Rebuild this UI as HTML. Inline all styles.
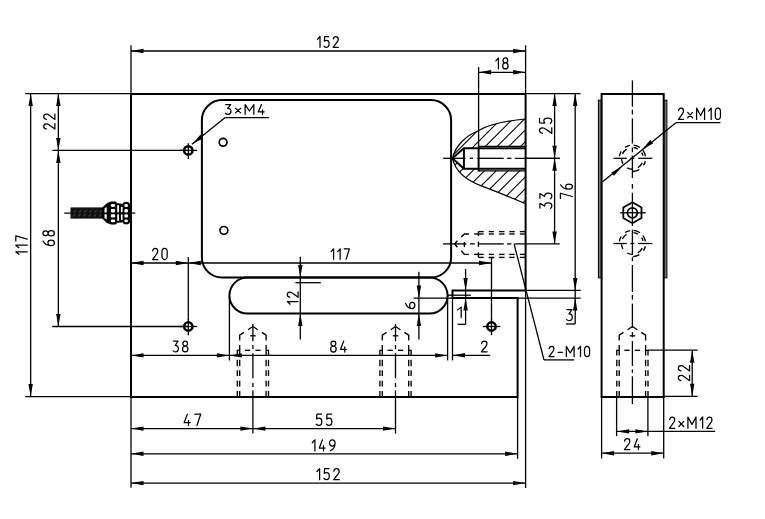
<!DOCTYPE html>
<html><head><meta charset="utf-8"><style>
html,body{margin:0;padding:0;background:#fff;}
svg{display:block;}
text{font-family:"Liberation Sans",sans-serif;fill:#000;}
</style></head><body>
<svg width="765" height="519" viewBox="0 0 765 519">
<g stroke="#000" fill="none">
<path d="M452.50,298.10 L452.50,290.40 L525.60,290.40 L525.60,93.90 L131.00,93.90 L131.00,397.00 L517.60,397.00 L517.60,298.10 Z" stroke-width="2.0" fill="none"/>
<path d="M221.9,100.1 L431.1,100.1 A20,20 0 0 1 451.1,120.1 L451.1,257.5 A20,20 0 0 1 431.1,277.5 L221.9,277.5 A20,20 0 0 1 201.9,257.5 L201.9,120.1 A20,20 0 0 1 221.9,100.1 Z" stroke-width="2.0" fill="none"/>
<path d="M247.4,277.6 L429.6,277.6 A18.0,18.0 0 0 1 429.6,313.6 L247.4,313.6 A18.0,18.0 0 0 1 247.4,277.6 Z" stroke-width="2.0" fill="none"/>
<circle cx="188.30" cy="150.40" r="4.20" stroke-width="2.5" fill="none"/>
<line x1="179.50" y1="150.40" x2="197.10" y2="150.40" stroke-width="1.3" stroke-linecap="butt"/>
<line x1="188.30" y1="143.20" x2="188.30" y2="159.10" stroke-width="1.3" stroke-linecap="butt"/>
<circle cx="188.30" cy="326.50" r="4.20" stroke-width="2.5" fill="none"/>
<line x1="179.50" y1="326.50" x2="197.10" y2="326.50" stroke-width="1.3" stroke-linecap="butt"/>
<line x1="188.30" y1="319.30" x2="188.30" y2="335.20" stroke-width="1.3" stroke-linecap="butt"/>
<circle cx="491.50" cy="326.50" r="4.20" stroke-width="2.5" fill="none"/>
<line x1="482.70" y1="326.50" x2="500.30" y2="326.50" stroke-width="1.3" stroke-linecap="butt"/>
<line x1="491.50" y1="319.30" x2="491.50" y2="335.20" stroke-width="1.3" stroke-linecap="butt"/>
<line x1="491.50" y1="257.60" x2="491.50" y2="320.00" stroke-width="1.3" stroke-linecap="butt"/>
<line x1="488.70" y1="257.60" x2="494.30" y2="257.60" stroke-width="1.3" stroke-linecap="butt"/>
<circle cx="223.10" cy="142.30" r="3.90" stroke-width="1.7" fill="none"/>
<circle cx="223.90" cy="230.40" r="3.90" stroke-width="1.7" fill="none"/>
<line x1="64.20" y1="213.10" x2="135.30" y2="213.10" stroke-width="1.3" stroke-linecap="butt"/>
<rect x="70.5" y="207.4" width="32.8" height="11.2" fill="#111" stroke="none"/>
<line x1="73.80" y1="212.30" x2="76.00" y2="210.10" stroke="#3a3a3a" stroke-width="1.3"/>
<line x1="79.00" y1="212.30" x2="81.20" y2="210.10" stroke="#3a3a3a" stroke-width="1.3"/>
<line x1="84.20" y1="212.30" x2="86.40" y2="210.10" stroke="#3a3a3a" stroke-width="1.3"/>
<line x1="89.40" y1="212.30" x2="91.60" y2="210.10" stroke="#3a3a3a" stroke-width="1.3"/>
<line x1="94.60" y1="212.30" x2="96.80" y2="210.10" stroke="#3a3a3a" stroke-width="1.3"/>
<line x1="99.80" y1="212.30" x2="102.00" y2="210.10" stroke="#3a3a3a" stroke-width="1.3"/>
<line x1="73.00" y1="216.50" x2="75.20" y2="214.30" stroke="#3a3a3a" stroke-width="1.3"/>
<line x1="78.20" y1="216.50" x2="80.40" y2="214.30" stroke="#3a3a3a" stroke-width="1.3"/>
<line x1="83.40" y1="216.50" x2="85.60" y2="214.30" stroke="#3a3a3a" stroke-width="1.3"/>
<line x1="88.60" y1="216.50" x2="90.80" y2="214.30" stroke="#3a3a3a" stroke-width="1.3"/>
<line x1="93.80" y1="216.50" x2="96.00" y2="214.30" stroke="#3a3a3a" stroke-width="1.3"/>
<line x1="99.00" y1="216.50" x2="101.20" y2="214.30" stroke="#3a3a3a" stroke-width="1.3"/>
<path d="M102.6,207.4 L107,203.4 L109,202.6 Q110,201.8 112,201.8 L115,201.8 Q116.5,201.8 117,203.4 L120,203.8 L123,204.2 Q123.2,202.2 125,202.2 L127.5,202.2 Q129,202.2 129.2,203.8 L131,203.8 L131,222.4 L129.2,222.4 Q129,224 127.5,224 L125,224 Q123.2,224 123,222 L120,222.2 L117,222.6 Q116.5,224.2 115,224.2 L112,224.2 Q110,224.2 109,223.4 L107,222.8 L102.6,218.6 Z" fill="#000" stroke="#000" stroke-width="0.6" stroke-linejoin="round"/>
<rect x="110.8" y="204.1" width="4.40" height="2.80" rx="1.4" fill="#fff" stroke="none"/>
<rect x="124.4" y="204.1" width="3.50" height="2.80" rx="1.2" fill="#fff" stroke="none"/>
<rect x="110.8" y="209.1" width="4.40" height="3.40" rx="1.4" fill="#fff" stroke="none"/>
<rect x="124.4" y="209.1" width="3.50" height="3.40" rx="1.2" fill="#fff" stroke="none"/>
<rect x="110.8" y="214.3" width="4.40" height="3.30" rx="1.4" fill="#fff" stroke="none"/>
<rect x="124.4" y="214.3" width="3.50" height="3.30" rx="1.2" fill="#fff" stroke="none"/>
<rect x="110.8" y="219.6" width="4.40" height="2.70" rx="1.4" fill="#fff" stroke="none"/>
<rect x="124.4" y="219.6" width="3.50" height="2.70" rx="1.2" fill="#fff" stroke="none"/>
<rect x="117.2" y="204.9" width="1.80" height="7.50" rx="0.8" fill="#fff" stroke="none"/>
<rect x="117.2" y="214.3" width="1.80" height="6.80" rx="0.8" fill="#fff" stroke="none"/>
<rect x="120.9" y="206.8" width="1.70" height="5.60" rx="0.8" fill="#fff" stroke="none"/>
<rect x="120.9" y="214.3" width="1.70" height="5.70" rx="0.8" fill="#fff" stroke="none"/>
<path d="M104.5,208.6 L106.7,206.9 L106.7,212.4 L104.5,212.4 Z M104.5,214.2 L106.7,214.2 L106.7,219.6 L104.5,218.1 Z" fill="#fff" stroke="none"/>
<clipPath id="hc"><path clip-rule="evenodd" d="M525.6,119 C505,121 488,125 478.3,130.7 C467.2,135 455.8,144.8 452.4,158.2 C455,170 465,180 481.4,185.9 C495,191 512,198 525.6,203.8 Z M452.4,158.2 L463.9,148.3 L478.6,148.3 L478.6,146.3 L525.6,146.3 L525.6,170.8 L478.6,170.8 L478.6,168.7 L463.9,168.7 Z"/></clipPath>
<path d="M386.48,210 L486.48,110 M398.24,210 L498.24,110 M410.00,210 L510.00,110 M421.76,210 L521.76,110 M433.52,210 L533.52,110 M445.28,210 L545.28,110 M457.04,210 L557.04,110 M468.80,210 L568.80,110 M480.56,210 L580.56,110 M492.32,210 L592.32,110 M504.08,210 L604.08,110 M515.84,210 L615.84,110 M527.60,210 L627.60,110 M539.36,210 L639.36,110" stroke-width="1.1" clip-path="url(#hc)" fill="none"/>
<path d="M525.6,119 C505,121 488,125 478.3,130.7 C467.2,135 455.8,144.8 452.4,158.2 C455,170 465,180 481.4,185.9 C495,191 512,198 525.6,203.8" stroke-width="1.2" fill="none"/>
<path d="M525.60,148.30 L463.90,148.30 L452.40,158.20 L463.90,168.70 L525.60,168.70" stroke-width="2.0" fill="none"/>
<line x1="463.90" y1="148.30" x2="463.90" y2="168.70" stroke-width="2.0" stroke-linecap="butt"/>
<line x1="478.60" y1="146.30" x2="525.60" y2="146.30" stroke-width="1.3" stroke-linecap="butt"/>
<line x1="478.60" y1="170.80" x2="525.60" y2="170.80" stroke-width="1.3" stroke-linecap="butt"/>
<line x1="478.60" y1="146.30" x2="478.60" y2="171.50" stroke-width="2.0" stroke-linecap="butt"/>
<line x1="474.10" y1="234.00" x2="483.70" y2="234.00" stroke-width="1.35" stroke-linecap="butt"/>
<line x1="488.80" y1="234.00" x2="493.90" y2="234.00" stroke-width="1.35" stroke-linecap="butt"/>
<line x1="499.00" y1="234.00" x2="504.50" y2="234.00" stroke-width="1.35" stroke-linecap="butt"/>
<line x1="509.20" y1="234.00" x2="514.70" y2="234.00" stroke-width="1.35" stroke-linecap="butt"/>
<line x1="519.80" y1="234.00" x2="525.00" y2="234.00" stroke-width="1.35" stroke-linecap="butt"/>
<line x1="474.10" y1="254.40" x2="483.70" y2="254.40" stroke-width="1.35" stroke-linecap="butt"/>
<line x1="488.80" y1="254.40" x2="493.90" y2="254.40" stroke-width="1.35" stroke-linecap="butt"/>
<line x1="499.00" y1="254.40" x2="504.50" y2="254.40" stroke-width="1.35" stroke-linecap="butt"/>
<line x1="509.20" y1="254.40" x2="514.70" y2="254.40" stroke-width="1.35" stroke-linecap="butt"/>
<line x1="519.80" y1="254.40" x2="525.00" y2="254.40" stroke-width="1.35" stroke-linecap="butt"/>
<line x1="478.40" y1="231.60" x2="483.70" y2="231.60" stroke-width="1.35" stroke-linecap="butt"/>
<line x1="488.80" y1="231.60" x2="493.90" y2="231.60" stroke-width="1.35" stroke-linecap="butt"/>
<line x1="499.00" y1="231.60" x2="504.50" y2="231.60" stroke-width="1.35" stroke-linecap="butt"/>
<line x1="509.20" y1="231.60" x2="514.70" y2="231.60" stroke-width="1.35" stroke-linecap="butt"/>
<line x1="519.80" y1="231.60" x2="525.00" y2="231.60" stroke-width="1.35" stroke-linecap="butt"/>
<line x1="478.40" y1="257.40" x2="483.70" y2="257.40" stroke-width="1.35" stroke-linecap="butt"/>
<line x1="488.80" y1="257.40" x2="493.90" y2="257.40" stroke-width="1.35" stroke-linecap="butt"/>
<line x1="499.00" y1="257.40" x2="504.50" y2="257.40" stroke-width="1.35" stroke-linecap="butt"/>
<line x1="509.20" y1="257.40" x2="514.70" y2="257.40" stroke-width="1.35" stroke-linecap="butt"/>
<line x1="519.80" y1="257.40" x2="525.00" y2="257.40" stroke-width="1.35" stroke-linecap="butt"/>
<path d="M461.30,237.10 L464.40,234.00 L468.90,234.00" stroke-width="1.35" fill="none"/>
<path d="M461.30,250.70 L464.40,254.40 L468.90,254.40" stroke-width="1.35" fill="none"/>
<path d="M457.40,240.60 L454.70,243.90 L457.40,247.20" stroke-width="1.35" fill="none"/>
<line x1="464.40" y1="241.90" x2="464.40" y2="247.10" stroke-width="1.35" stroke-linecap="butt"/>
<line x1="478.40" y1="231.60" x2="478.40" y2="236.20" stroke-width="1.35" stroke-linecap="butt"/>
<line x1="478.40" y1="241.70" x2="478.40" y2="246.80" stroke-width="1.35" stroke-linecap="butt"/>
<line x1="478.40" y1="252.30" x2="478.40" y2="257.40" stroke-width="1.35" stroke-linecap="butt"/>
<line x1="443.10" y1="243.90" x2="466.50" y2="243.90" stroke-width="1.3" stroke-linecap="butt"/>
<line x1="469.90" y1="243.90" x2="474.80" y2="243.90" stroke-width="1.3" stroke-linecap="butt"/>
<line x1="478.60" y1="243.90" x2="503.70" y2="243.90" stroke-width="1.3" stroke-linecap="butt"/>
<line x1="507.10" y1="243.90" x2="511.40" y2="243.90" stroke-width="1.3" stroke-linecap="butt"/>
<line x1="514.40" y1="243.90" x2="559.80" y2="243.90" stroke-width="1.3" stroke-linecap="butt"/>
<path d="M248.10,329.70 L252.90,326.50 L257.80,329.70" stroke-width="1.35" fill="none"/>
<path d="M244.00,332.40 L239.70,335.10 L239.70,340.40" stroke-width="1.35" fill="none"/>
<line x1="239.70" y1="345.10" x2="239.70" y2="355.60" stroke-width="1.35" stroke-linecap="butt"/>
<line x1="239.70" y1="359.80" x2="239.70" y2="366.20" stroke-width="1.35" stroke-linecap="butt"/>
<line x1="239.70" y1="370.20" x2="239.70" y2="376.00" stroke-width="1.35" stroke-linecap="butt"/>
<line x1="239.70" y1="380.70" x2="239.70" y2="386.40" stroke-width="1.35" stroke-linecap="butt"/>
<line x1="239.70" y1="391.00" x2="239.70" y2="396.50" stroke-width="1.35" stroke-linecap="butt"/>
<path d="M239.70,350.30 L237.30,350.30 L237.30,355.60" stroke-width="1.35" fill="none"/>
<line x1="237.30" y1="359.80" x2="237.30" y2="366.20" stroke-width="1.35" stroke-linecap="butt"/>
<line x1="237.30" y1="370.20" x2="237.30" y2="376.00" stroke-width="1.35" stroke-linecap="butt"/>
<line x1="237.30" y1="380.70" x2="237.30" y2="386.40" stroke-width="1.35" stroke-linecap="butt"/>
<line x1="237.30" y1="391.00" x2="237.30" y2="396.50" stroke-width="1.35" stroke-linecap="butt"/>
<path d="M261.80,332.40 L266.10,335.10 L266.10,340.40" stroke-width="1.35" fill="none"/>
<line x1="266.10" y1="345.10" x2="266.10" y2="355.60" stroke-width="1.35" stroke-linecap="butt"/>
<line x1="266.10" y1="359.80" x2="266.10" y2="366.20" stroke-width="1.35" stroke-linecap="butt"/>
<line x1="266.10" y1="370.20" x2="266.10" y2="376.00" stroke-width="1.35" stroke-linecap="butt"/>
<line x1="266.10" y1="380.70" x2="266.10" y2="386.40" stroke-width="1.35" stroke-linecap="butt"/>
<line x1="266.10" y1="391.00" x2="266.10" y2="396.50" stroke-width="1.35" stroke-linecap="butt"/>
<path d="M266.10,350.30 L268.50,350.30 L268.50,355.60" stroke-width="1.35" fill="none"/>
<line x1="268.50" y1="359.80" x2="268.50" y2="366.20" stroke-width="1.35" stroke-linecap="butt"/>
<line x1="268.50" y1="370.20" x2="268.50" y2="376.00" stroke-width="1.35" stroke-linecap="butt"/>
<line x1="268.50" y1="380.70" x2="268.50" y2="386.40" stroke-width="1.35" stroke-linecap="butt"/>
<line x1="268.50" y1="391.00" x2="268.50" y2="396.50" stroke-width="1.35" stroke-linecap="butt"/>
<line x1="244.90" y1="350.30" x2="250.10" y2="350.30" stroke-width="1.35" stroke-linecap="butt"/>
<line x1="255.40" y1="350.30" x2="260.60" y2="350.30" stroke-width="1.35" stroke-linecap="butt"/>
<line x1="250.20" y1="335.80" x2="255.70" y2="335.80" stroke-width="1.3" stroke-linecap="butt"/>
<path d="M390.70,329.70 L395.50,326.50 L400.40,329.70" stroke-width="1.35" fill="none"/>
<path d="M386.60,332.40 L382.30,335.10 L382.30,340.40" stroke-width="1.35" fill="none"/>
<line x1="382.30" y1="345.10" x2="382.30" y2="355.60" stroke-width="1.35" stroke-linecap="butt"/>
<line x1="382.30" y1="359.80" x2="382.30" y2="366.20" stroke-width="1.35" stroke-linecap="butt"/>
<line x1="382.30" y1="370.20" x2="382.30" y2="376.00" stroke-width="1.35" stroke-linecap="butt"/>
<line x1="382.30" y1="380.70" x2="382.30" y2="386.40" stroke-width="1.35" stroke-linecap="butt"/>
<line x1="382.30" y1="391.00" x2="382.30" y2="396.50" stroke-width="1.35" stroke-linecap="butt"/>
<path d="M382.30,350.30 L379.90,350.30 L379.90,355.60" stroke-width="1.35" fill="none"/>
<line x1="379.90" y1="359.80" x2="379.90" y2="366.20" stroke-width="1.35" stroke-linecap="butt"/>
<line x1="379.90" y1="370.20" x2="379.90" y2="376.00" stroke-width="1.35" stroke-linecap="butt"/>
<line x1="379.90" y1="380.70" x2="379.90" y2="386.40" stroke-width="1.35" stroke-linecap="butt"/>
<line x1="379.90" y1="391.00" x2="379.90" y2="396.50" stroke-width="1.35" stroke-linecap="butt"/>
<path d="M404.40,332.40 L408.70,335.10 L408.70,340.40" stroke-width="1.35" fill="none"/>
<line x1="408.70" y1="345.10" x2="408.70" y2="355.60" stroke-width="1.35" stroke-linecap="butt"/>
<line x1="408.70" y1="359.80" x2="408.70" y2="366.20" stroke-width="1.35" stroke-linecap="butt"/>
<line x1="408.70" y1="370.20" x2="408.70" y2="376.00" stroke-width="1.35" stroke-linecap="butt"/>
<line x1="408.70" y1="380.70" x2="408.70" y2="386.40" stroke-width="1.35" stroke-linecap="butt"/>
<line x1="408.70" y1="391.00" x2="408.70" y2="396.50" stroke-width="1.35" stroke-linecap="butt"/>
<path d="M408.70,350.30 L411.10,350.30 L411.10,355.60" stroke-width="1.35" fill="none"/>
<line x1="411.10" y1="359.80" x2="411.10" y2="366.20" stroke-width="1.35" stroke-linecap="butt"/>
<line x1="411.10" y1="370.20" x2="411.10" y2="376.00" stroke-width="1.35" stroke-linecap="butt"/>
<line x1="411.10" y1="380.70" x2="411.10" y2="386.40" stroke-width="1.35" stroke-linecap="butt"/>
<line x1="411.10" y1="391.00" x2="411.10" y2="396.50" stroke-width="1.35" stroke-linecap="butt"/>
<line x1="387.50" y1="350.30" x2="392.70" y2="350.30" stroke-width="1.35" stroke-linecap="butt"/>
<line x1="398.00" y1="350.30" x2="403.20" y2="350.30" stroke-width="1.35" stroke-linecap="butt"/>
<line x1="392.80" y1="335.80" x2="398.30" y2="335.80" stroke-width="1.3" stroke-linecap="butt"/>
<line x1="252.90" y1="323.90" x2="252.90" y2="341.20" stroke-width="1.3" stroke-linecap="butt"/>
<line x1="252.90" y1="345.10" x2="252.90" y2="349.10" stroke-width="1.3" stroke-linecap="butt"/>
<line x1="252.90" y1="353.20" x2="252.90" y2="378.30" stroke-width="1.3" stroke-linecap="butt"/>
<line x1="252.90" y1="383.00" x2="252.90" y2="387.00" stroke-width="1.3" stroke-linecap="butt"/>
<line x1="252.90" y1="390.50" x2="252.90" y2="433.60" stroke-width="1.3" stroke-linecap="butt"/>
<line x1="395.50" y1="323.90" x2="395.50" y2="341.20" stroke-width="1.3" stroke-linecap="butt"/>
<line x1="395.50" y1="345.10" x2="395.50" y2="349.10" stroke-width="1.3" stroke-linecap="butt"/>
<line x1="395.50" y1="353.20" x2="395.50" y2="378.30" stroke-width="1.3" stroke-linecap="butt"/>
<line x1="395.50" y1="383.00" x2="395.50" y2="387.00" stroke-width="1.3" stroke-linecap="butt"/>
<line x1="395.50" y1="390.50" x2="395.50" y2="433.60" stroke-width="1.3" stroke-linecap="butt"/>
<line x1="443.10" y1="158.30" x2="465.50" y2="158.30" stroke-width="1.3" stroke-linecap="butt"/>
<line x1="469.70" y1="158.30" x2="473.10" y2="158.30" stroke-width="1.3" stroke-linecap="butt"/>
<line x1="477.40" y1="158.30" x2="503.70" y2="158.30" stroke-width="1.3" stroke-linecap="butt"/>
<line x1="507.10" y1="158.30" x2="511.40" y2="158.30" stroke-width="1.3" stroke-linecap="butt"/>
<line x1="514.80" y1="158.30" x2="559.80" y2="158.30" stroke-width="1.3" stroke-linecap="butt"/>
<line x1="131.00" y1="45.30" x2="131.00" y2="93.90" stroke-width="1.3" stroke-linecap="butt"/>
<line x1="525.60" y1="45.30" x2="525.60" y2="93.90" stroke-width="1.3" stroke-linecap="butt"/>
<line x1="131.00" y1="51.00" x2="525.60" y2="51.00" stroke-width="1.3" stroke-linecap="butt"/>
<path d="M131.00,51.00 L143.50,48.80 L143.50,53.20 Z" fill="#000" stroke="none"/>
<path d="M525.60,51.00 L513.10,53.20 L513.10,48.80 Z" fill="#000" stroke="none"/>
<g transform="translate(317.52,36.52) scale(0.9976,0.9864)" stroke-width="1.25" stroke-linecap="round" stroke-linejoin="round" fill="none"><path transform="translate(0.00,0)" d="M0,2.9 L2.5,0 L2.5,11" vector-effect="non-scaling-stroke"/><path transform="translate(6.60,0)" d="M4.7,0 L0.6,0 L0.3,4.7 C1,4.1 1.7,3.9 2.5,3.9 C4.1,3.9 5.0,5.3 5.0,7.4 C5.0,9.6 3.9,11 2.4,11 C1.3,11 0.5,10.5 0,9.7" vector-effect="non-scaling-stroke"/><path transform="translate(15.70,0)" d="M0.1,2.5 C0.4,0.9 1.4,0 2.6,0 C4.1,0 5.1,1.1 5.1,2.7 C5.1,3.9 4.6,4.8 3.8,5.8 L0,11 L5.2,11" vector-effect="non-scaling-stroke"/></g>
<line x1="478.60" y1="67.10" x2="478.60" y2="146.30" stroke-width="1.3" stroke-linecap="butt"/>
<line x1="478.60" y1="72.30" x2="525.60" y2="72.30" stroke-width="1.3" stroke-linecap="butt"/>
<path d="M478.60,72.30 L491.10,70.10 L491.10,74.50 Z" fill="#000" stroke="none"/>
<path d="M525.60,72.30 L513.10,74.50 L513.10,70.10 Z" fill="#000" stroke="none"/>
<g transform="translate(495.82,57.92) scale(1.0381,0.9955)" stroke-width="1.25" stroke-linecap="round" stroke-linejoin="round" fill="none"><path transform="translate(0.00,0)" d="M0,2.9 L2.5,0 L2.5,11" vector-effect="non-scaling-stroke"/><path transform="translate(6.60,0)" d="M2.6,5 C1.2,5 0.35,4 0.35,2.5 C0.35,1 1.2,0 2.6,0 C4,0 4.85,1 4.85,2.5 C4.85,4 4,5 2.6,5 C1,5 0,6.3 0,8 C0,9.8 1.1,11 2.6,11 C4.1,11 5.2,9.8 5.2,8 C5.2,6.3 4.2,5 2.6,5 Z" vector-effect="non-scaling-stroke"/></g>
<line x1="25.20" y1="93.55" x2="131.00" y2="93.55" stroke-width="1.3" stroke-linecap="butt"/>
<line x1="25.20" y1="396.60" x2="131.00" y2="396.60" stroke-width="1.3" stroke-linecap="butt"/>
<line x1="30.65" y1="93.55" x2="30.65" y2="396.60" stroke-width="1.3" stroke-linecap="butt"/>
<path d="M30.65,93.55 L32.85,106.05 L28.45,106.05 Z" fill="#000" stroke="none"/>
<path d="M30.65,396.60 L28.45,384.10 L32.85,384.10 Z" fill="#000" stroke="none"/>
<g transform="translate(15.82,254.28) rotate(-90) scale(1.0027,1.0409)" stroke-width="1.25" stroke-linecap="round" stroke-linejoin="round" fill="none"><path transform="translate(0.00,0)" d="M0,2.9 L2.5,0 L2.5,11" vector-effect="non-scaling-stroke"/><path transform="translate(6.60,0)" d="M0,2.9 L2.5,0 L2.5,11" vector-effect="non-scaling-stroke"/><path transform="translate(13.20,0)" d="M0,0 L5.2,0 L1.9,11" vector-effect="non-scaling-stroke"/></g>
<line x1="52.40" y1="150.40" x2="188.30" y2="150.40" stroke-width="1.3" stroke-linecap="butt"/>
<line x1="58.35" y1="93.55" x2="58.35" y2="150.40" stroke-width="1.3" stroke-linecap="butt"/>
<path d="M58.35,93.55 L60.55,106.05 L56.15,106.05 Z" fill="#000" stroke="none"/>
<path d="M58.35,150.40 L56.15,137.90 L60.55,137.90 Z" fill="#000" stroke="none"/>
<g transform="translate(43.73,129.07) rotate(-90) scale(1.0310,1.0136)" stroke-width="1.25" stroke-linecap="round" stroke-linejoin="round" fill="none"><path transform="translate(0.00,0)" d="M0.1,2.5 C0.4,0.9 1.4,0 2.6,0 C4.1,0 5.1,1.1 5.1,2.7 C5.1,3.9 4.6,4.8 3.8,5.8 L0,11 L5.2,11" vector-effect="non-scaling-stroke"/><path transform="translate(9.30,0)" d="M0.1,2.5 C0.4,0.9 1.4,0 2.6,0 C4.1,0 5.1,1.1 5.1,2.7 C5.1,3.9 4.6,4.8 3.8,5.8 L0,11 L5.2,11" vector-effect="non-scaling-stroke"/></g>
<line x1="52.20" y1="326.50" x2="188.30" y2="326.50" stroke-width="1.3" stroke-linecap="butt"/>
<line x1="58.35" y1="150.40" x2="58.35" y2="326.50" stroke-width="1.3" stroke-linecap="butt"/>
<path d="M58.35,150.40 L60.55,162.90 L56.15,162.90 Z" fill="#000" stroke="none"/>
<path d="M58.35,326.50 L56.15,314.00 L60.55,314.00 Z" fill="#000" stroke="none"/>
<g transform="translate(42.92,245.57) rotate(-90) scale(1.0310,1.0409)" stroke-width="1.25" stroke-linecap="round" stroke-linejoin="round" fill="none"><path transform="translate(0.00,0)" d="M4.4,0.2 C2,1.3 0,4.3 0,7.6 C0,9.7 1.1,11 2.6,11 C4.1,11 5.2,9.7 5.2,7.8 C5.2,5.9 4.1,4.8 2.7,4.8 C1.5,4.8 0.5,5.5 0.1,6.6" vector-effect="non-scaling-stroke"/><path transform="translate(9.30,0)" d="M2.6,5 C1.2,5 0.35,4 0.35,2.5 C0.35,1 1.2,0 2.6,0 C4,0 4.85,1 4.85,2.5 C4.85,4 4,5 2.6,5 C1,5 0,6.3 0,8 C0,9.8 1.1,11 2.6,11 C4.1,11 5.2,9.8 5.2,8 C5.2,6.3 4.2,5 2.6,5 Z" vector-effect="non-scaling-stroke"/></g>
<line x1="188.30" y1="257.00" x2="188.30" y2="320.00" stroke-width="1.3" stroke-linecap="butt"/>
<line x1="131.00" y1="263.00" x2="188.30" y2="263.00" stroke-width="1.3" stroke-linecap="butt"/>
<path d="M131.00,263.00 L143.50,260.80 L143.50,265.20 Z" fill="#000" stroke="none"/>
<path d="M188.30,263.00 L175.80,265.20 L175.80,260.80 Z" fill="#000" stroke="none"/>
<g transform="translate(152.62,248.32) scale(1.0034,1.0227)" stroke-width="1.25" stroke-linecap="round" stroke-linejoin="round" fill="none"><path transform="translate(0.00,0)" d="M0.1,2.5 C0.4,0.9 1.4,0 2.6,0 C4.1,0 5.1,1.1 5.1,2.7 C5.1,3.9 4.6,4.8 3.8,5.8 L0,11 L5.2,11" vector-effect="non-scaling-stroke"/><path transform="translate(9.30,0)" d="M2.6,0 C4.3,0 5.2,1.6 5.2,3.4 L5.2,7.6 C5.2,9.4 4.3,11 2.6,11 C0.9,11 0,9.4 0,7.6 L0,3.4 C0,1.6 0.9,0 2.6,0 Z" vector-effect="non-scaling-stroke"/></g>
<line x1="188.30" y1="263.00" x2="491.50" y2="263.00" stroke-width="1.3" stroke-linecap="butt"/>
<path d="M188.30,263.00 L200.80,260.80 L200.80,265.20 Z" fill="#000" stroke="none"/>
<path d="M491.50,263.00 L479.00,265.20 L479.00,260.80 Z" fill="#000" stroke="none"/>
<g transform="translate(331.12,248.82) scale(0.9918,0.9591)" stroke-width="1.25" stroke-linecap="round" stroke-linejoin="round" fill="none"><path transform="translate(0.00,0)" d="M0,2.9 L2.5,0 L2.5,11" vector-effect="non-scaling-stroke"/><path transform="translate(6.60,0)" d="M0,2.9 L2.5,0 L2.5,11" vector-effect="non-scaling-stroke"/><path transform="translate(13.20,0)" d="M0,0 L5.2,0 L1.9,11" vector-effect="non-scaling-stroke"/></g>
<line x1="300.30" y1="256.70" x2="300.30" y2="339.40" stroke-width="1.3" stroke-linecap="butt"/>
<path d="M300.30,277.60 L298.10,265.10 L302.50,265.10 Z" fill="#000" stroke="none"/>
<path d="M300.30,313.40 L302.50,325.90 L298.10,325.90 Z" fill="#000" stroke="none"/>
<line x1="295.40" y1="282.70" x2="320.80" y2="282.70" stroke-width="1.3" stroke-linecap="butt"/>
<g transform="translate(287.32,304.18) rotate(-90) scale(1.0381,0.9773)" stroke-width="1.25" stroke-linecap="round" stroke-linejoin="round" fill="none"><path transform="translate(0.00,0)" d="M0,2.9 L2.5,0 L2.5,11" vector-effect="non-scaling-stroke"/><path transform="translate(6.60,0)" d="M0.1,2.5 C0.4,0.9 1.4,0 2.6,0 C4.1,0 5.1,1.1 5.1,2.7 C5.1,3.9 4.6,4.8 3.8,5.8 L0,11 L5.2,11" vector-effect="non-scaling-stroke"/></g>
<line x1="413.60" y1="298.10" x2="452.50" y2="298.10" stroke-width="1.3" stroke-linecap="butt"/>
<line x1="517.60" y1="298.10" x2="580.70" y2="298.10" stroke-width="1.3" stroke-linecap="butt"/>
<line x1="418.90" y1="271.80" x2="418.90" y2="339.50" stroke-width="1.3" stroke-linecap="butt"/>
<path d="M418.90,298.10 L416.70,285.60 L421.10,285.60 Z" fill="#000" stroke="none"/>
<path d="M418.90,313.60 L421.10,326.10 L416.70,326.10 Z" fill="#000" stroke="none"/>
<g transform="translate(405.43,308.57) rotate(-90) scale(1.1827,0.8591)" stroke-width="1.25" stroke-linecap="round" stroke-linejoin="round" fill="none"><path transform="translate(0.00,0)" d="M4.4,0.2 C2,1.3 0,4.3 0,7.6 C0,9.7 1.1,11 2.6,11 C4.1,11 5.2,9.7 5.2,7.8 C5.2,5.9 4.1,4.8 2.7,4.8 C1.5,4.8 0.5,5.5 0.1,6.6" vector-effect="non-scaling-stroke"/></g>
<line x1="465.60" y1="269.00" x2="465.60" y2="324.30" stroke-width="1.3" stroke-linecap="butt"/>
<line x1="457.60" y1="324.30" x2="465.60" y2="324.30" stroke-width="1.3" stroke-linecap="butt"/>
<path d="M465.60,290.40 L463.40,277.90 L467.80,277.90 Z" fill="#000" stroke="none"/>
<path d="M465.60,298.10 L467.80,310.60 L463.40,310.60 Z" fill="#000" stroke="none"/>
<line x1="448.00" y1="295.20" x2="470.90" y2="295.20" stroke-width="1.3" stroke-linecap="butt"/>
<g transform="translate(457.62,307.12) scale(1.4200,0.9500)" stroke-width="1.25" stroke-linecap="round" stroke-linejoin="round" fill="none"><path transform="translate(0.00,0)" d="M0,2.9 L2.5,0 L2.5,11" vector-effect="non-scaling-stroke"/></g>
<line x1="525.60" y1="93.55" x2="580.50" y2="93.55" stroke-width="1.3" stroke-linecap="butt"/>
<line x1="525.60" y1="290.40" x2="580.70" y2="290.40" stroke-width="1.3" stroke-linecap="butt"/>
<line x1="575.20" y1="93.55" x2="575.20" y2="290.40" stroke-width="1.3" stroke-linecap="butt"/>
<path d="M575.20,93.55 L577.40,106.05 L573.00,106.05 Z" fill="#000" stroke="none"/>
<path d="M575.20,290.40 L573.00,277.90 L577.40,277.90 Z" fill="#000" stroke="none"/>
<g transform="translate(560.42,198.38) rotate(-90) scale(0.9897,1.0864)" stroke-width="1.25" stroke-linecap="round" stroke-linejoin="round" fill="none"><path transform="translate(0.00,0)" d="M0,0 L5.2,0 L1.9,11" vector-effect="non-scaling-stroke"/><path transform="translate(9.30,0)" d="M4.4,0.2 C2,1.3 0,4.3 0,7.6 C0,9.7 1.1,11 2.6,11 C4.1,11 5.2,9.7 5.2,7.8 C5.2,5.9 4.1,4.8 2.7,4.8 C1.5,4.8 0.5,5.5 0.1,6.6" vector-effect="non-scaling-stroke"/></g>
<line x1="575.20" y1="290.30" x2="575.20" y2="324.00" stroke-width="1.3" stroke-linecap="butt"/>
<line x1="566.00" y1="324.00" x2="575.20" y2="324.00" stroke-width="1.3" stroke-linecap="butt"/>
<path d="M575.20,298.10 L577.40,310.60 L573.00,310.60 Z" fill="#000" stroke="none"/>
<g transform="translate(566.62,309.62) scale(1.1078,1.0045)" stroke-width="1.25" stroke-linecap="round" stroke-linejoin="round" fill="none"><path transform="translate(0.00,0)" d="M0.3,0 L4.8,0 L2.1,4.3 C4,4.3 5.1,5.6 5.1,7.6 C5.1,9.7 3.9,11 2.4,11 C1.3,11 0.4,10.5 0,9.8" vector-effect="non-scaling-stroke"/></g>
<line x1="525.60" y1="158.30" x2="559.80" y2="158.30" stroke-width="1.3" stroke-linecap="butt"/>
<line x1="554.60" y1="93.55" x2="554.60" y2="158.30" stroke-width="1.3" stroke-linecap="butt"/>
<path d="M554.60,93.55 L556.80,106.05 L552.40,106.05 Z" fill="#000" stroke="none"/>
<path d="M554.60,158.30 L552.40,145.80 L556.80,145.80 Z" fill="#000" stroke="none"/>
<g transform="translate(539.52,133.38) rotate(-90) scale(1.0734,1.1136)" stroke-width="1.25" stroke-linecap="round" stroke-linejoin="round" fill="none"><path transform="translate(0.00,0)" d="M0.1,2.5 C0.4,0.9 1.4,0 2.6,0 C4.1,0 5.1,1.1 5.1,2.7 C5.1,3.9 4.6,4.8 3.8,5.8 L0,11 L5.2,11" vector-effect="non-scaling-stroke"/><path transform="translate(9.30,0)" d="M4.7,0 L0.6,0 L0.3,4.7 C1,4.1 1.7,3.9 2.5,3.9 C4.1,3.9 5.0,5.3 5.0,7.4 C5.0,9.6 3.9,11 2.4,11 C1.3,11 0.5,10.5 0,9.7" vector-effect="non-scaling-stroke"/></g>
<line x1="554.60" y1="158.30" x2="554.60" y2="244.00" stroke-width="1.3" stroke-linecap="butt"/>
<path d="M554.60,158.30 L556.80,170.80 L552.40,170.80 Z" fill="#000" stroke="none"/>
<path d="M554.60,244.00 L552.40,231.50 L556.80,231.50 Z" fill="#000" stroke="none"/>
<g transform="translate(539.92,208.38) rotate(-90) scale(1.0594,1.0864)" stroke-width="1.25" stroke-linecap="round" stroke-linejoin="round" fill="none"><path transform="translate(0.00,0)" d="M0.3,0 L4.8,0 L2.1,4.3 C4,4.3 5.1,5.6 5.1,7.6 C5.1,9.7 3.9,11 2.4,11 C1.3,11 0.4,10.5 0,9.8" vector-effect="non-scaling-stroke"/><path transform="translate(9.20,0)" d="M0.3,0 L4.8,0 L2.1,4.3 C4,4.3 5.1,5.6 5.1,7.6 C5.1,9.7 3.9,11 2.4,11 C1.3,11 0.4,10.5 0,9.8" vector-effect="non-scaling-stroke"/></g>
<line x1="229.40" y1="296.00" x2="229.40" y2="360.50" stroke-width="1.3" stroke-linecap="butt"/>
<line x1="447.60" y1="296.00" x2="447.60" y2="360.40" stroke-width="1.3" stroke-linecap="butt"/>
<line x1="452.50" y1="298.10" x2="452.50" y2="360.40" stroke-width="1.3" stroke-linecap="butt"/>
<line x1="131.00" y1="355.40" x2="229.40" y2="355.40" stroke-width="1.3" stroke-linecap="butt"/>
<path d="M131.00,355.40 L143.50,353.20 L143.50,357.60 Z" fill="#000" stroke="none"/>
<path d="M229.40,355.40 L216.90,357.60 L216.90,353.20 Z" fill="#000" stroke="none"/>
<g transform="translate(173.12,341.12) scale(1.0243,0.9864)" stroke-width="1.25" stroke-linecap="round" stroke-linejoin="round" fill="none"><path transform="translate(0.00,0)" d="M0.3,0 L4.8,0 L2.1,4.3 C4,4.3 5.1,5.6 5.1,7.6 C5.1,9.7 3.9,11 2.4,11 C1.3,11 0.4,10.5 0,9.8" vector-effect="non-scaling-stroke"/><path transform="translate(9.20,0)" d="M2.6,5 C1.2,5 0.35,4 0.35,2.5 C0.35,1 1.2,0 2.6,0 C4,0 4.85,1 4.85,2.5 C4.85,4 4,5 2.6,5 C1,5 0,6.3 0,8 C0,9.8 1.1,11 2.6,11 C4.1,11 5.2,9.8 5.2,8 C5.2,6.3 4.2,5 2.6,5 Z" vector-effect="non-scaling-stroke"/></g>
<line x1="229.40" y1="355.40" x2="447.60" y2="355.40" stroke-width="1.3" stroke-linecap="butt"/>
<path d="M229.40,355.40 L241.90,353.20 L241.90,357.60 Z" fill="#000" stroke="none"/>
<path d="M447.60,355.40 L435.10,357.60 L435.10,353.20 Z" fill="#000" stroke="none"/>
<g transform="translate(330.62,341.12) scale(1.0714,0.9955)" stroke-width="1.25" stroke-linecap="round" stroke-linejoin="round" fill="none"><path transform="translate(0.00,0)" d="M2.6,5 C1.2,5 0.35,4 0.35,2.5 C0.35,1 1.2,0 2.6,0 C4,0 4.85,1 4.85,2.5 C4.85,4 4,5 2.6,5 C1,5 0,6.3 0,8 C0,9.8 1.1,11 2.6,11 C4.1,11 5.2,9.8 5.2,8 C5.2,6.3 4.2,5 2.6,5 Z" vector-effect="non-scaling-stroke"/><path transform="translate(9.30,0)" d="M2.9,0 L0,8.2 L5.4,8.2 M3.9,5.9 L3.9,11" vector-effect="non-scaling-stroke"/></g>
<line x1="452.50" y1="355.30" x2="490.20" y2="355.30" stroke-width="1.3" stroke-linecap="butt"/>
<path d="M452.50,355.30 L465.00,353.10 L465.00,357.50 Z" fill="#000" stroke="none"/>
<g transform="translate(481.43,341.12) scale(1.0865,0.9682)" stroke-width="1.25" stroke-linecap="round" stroke-linejoin="round" fill="none"><path transform="translate(0.00,0)" d="M0.1,2.5 C0.4,0.9 1.4,0 2.6,0 C4.1,0 5.1,1.1 5.1,2.7 C5.1,3.9 4.6,4.8 3.8,5.8 L0,11 L5.2,11" vector-effect="non-scaling-stroke"/></g>
<line x1="131.00" y1="397.00" x2="131.00" y2="487.80" stroke-width="1.3" stroke-linecap="butt"/>
<line x1="525.60" y1="290.40" x2="525.60" y2="488.00" stroke-width="1.3" stroke-linecap="butt"/>
<line x1="517.60" y1="397.00" x2="517.60" y2="458.80" stroke-width="1.3" stroke-linecap="butt"/>
<line x1="131.00" y1="428.60" x2="252.90" y2="428.60" stroke-width="1.3" stroke-linecap="butt"/>
<path d="M131.00,428.60 L143.50,426.40 L143.50,430.80 Z" fill="#000" stroke="none"/>
<path d="M252.90,428.60 L240.40,430.80 L240.40,426.40 Z" fill="#000" stroke="none"/>
<g transform="translate(184.12,414.23) scale(1.1259,1.0227)" stroke-width="1.25" stroke-linecap="round" stroke-linejoin="round" fill="none"><path transform="translate(0.00,0)" d="M2.9,0 L0,8.2 L5.4,8.2 M3.9,5.9 L3.9,11" vector-effect="non-scaling-stroke"/><path transform="translate(9.50,0)" d="M0,0 L5.2,0 L1.9,11" vector-effect="non-scaling-stroke"/></g>
<line x1="252.90" y1="428.60" x2="395.50" y2="428.60" stroke-width="1.3" stroke-linecap="butt"/>
<path d="M252.90,428.60 L265.40,426.40 L265.40,430.80 Z" fill="#000" stroke="none"/>
<path d="M395.50,428.60 L383.00,430.80 L383.00,426.40 Z" fill="#000" stroke="none"/>
<g transform="translate(316.23,414.23) scale(1.1099,1.0227)" stroke-width="1.25" stroke-linecap="round" stroke-linejoin="round" fill="none"><path transform="translate(0.00,0)" d="M4.7,0 L0.6,0 L0.3,4.7 C1,4.1 1.7,3.9 2.5,3.9 C4.1,3.9 5.0,5.3 5.0,7.4 C5.0,9.6 3.9,11 2.4,11 C1.3,11 0.5,10.5 0,9.7" vector-effect="non-scaling-stroke"/><path transform="translate(9.10,0)" d="M4.7,0 L0.6,0 L0.3,4.7 C1,4.1 1.7,3.9 2.5,3.9 C4.1,3.9 5.0,5.3 5.0,7.4 C5.0,9.6 3.9,11 2.4,11 C1.3,11 0.5,10.5 0,9.7" vector-effect="non-scaling-stroke"/></g>
<line x1="131.00" y1="453.80" x2="517.60" y2="453.80" stroke-width="1.3" stroke-linecap="butt"/>
<path d="M131.00,453.80 L143.50,451.60 L143.50,456.00 Z" fill="#000" stroke="none"/>
<path d="M517.60,453.80 L505.10,456.00 L505.10,451.60 Z" fill="#000" stroke="none"/>
<g transform="translate(312.23,439.82) scale(1.0728,1.0045)" stroke-width="1.25" stroke-linecap="round" stroke-linejoin="round" fill="none"><path transform="translate(0.00,0)" d="M0,2.9 L2.5,0 L2.5,11" vector-effect="non-scaling-stroke"/><path transform="translate(6.60,0)" d="M2.9,0 L0,8.2 L5.4,8.2 M3.9,5.9 L3.9,11" vector-effect="non-scaling-stroke"/><path transform="translate(16.10,0)" d="M0.8,10.8 C3.2,9.7 5.2,6.7 5.2,3.4 C5.2,1.3 4.1,0 2.6,0 C1.1,0 0,1.3 0,3.2 C0,5.1 1.1,6.2 2.5,6.2 C3.7,6.2 4.7,5.5 5.1,4.4" vector-effect="non-scaling-stroke"/></g>
<line x1="131.00" y1="483.10" x2="525.60" y2="483.10" stroke-width="1.3" stroke-linecap="butt"/>
<path d="M131.00,483.10 L143.50,480.90 L143.50,485.30 Z" fill="#000" stroke="none"/>
<path d="M525.60,483.10 L513.10,485.30 L513.10,480.90 Z" fill="#000" stroke="none"/>
<g transform="translate(316.93,468.62) scale(1.0694,1.0045)" stroke-width="1.25" stroke-linecap="round" stroke-linejoin="round" fill="none"><path transform="translate(0.00,0)" d="M0,2.9 L2.5,0 L2.5,11" vector-effect="non-scaling-stroke"/><path transform="translate(6.60,0)" d="M4.7,0 L0.6,0 L0.3,4.7 C1,4.1 1.7,3.9 2.5,3.9 C4.1,3.9 5.0,5.3 5.0,7.4 C5.0,9.6 3.9,11 2.4,11 C1.3,11 0.5,10.5 0,9.7" vector-effect="non-scaling-stroke"/><path transform="translate(15.70,0)" d="M0.1,2.5 C0.4,0.9 1.4,0 2.6,0 C4.1,0 5.1,1.1 5.1,2.7 C5.1,3.9 4.6,4.8 3.8,5.8 L0,11 L5.2,11" vector-effect="non-scaling-stroke"/></g>
<line x1="225.20" y1="117.60" x2="269.10" y2="117.60" stroke-width="1.3" stroke-linecap="butt"/>
<line x1="225.20" y1="117.60" x2="192.00" y2="144.30" stroke-width="1.3" stroke-linecap="butt"/>
<path d="M192.00,144.30 L200.36,134.75 L203.12,138.18 Z" fill="#000" stroke="none"/>
<g transform="translate(225.43,104.62) scale(1.0885,0.8864)" stroke-width="1.25" stroke-linecap="round" stroke-linejoin="round" fill="none"><path transform="translate(0.00,0)" d="M0.3,0 L4.8,0 L2.1,4.3 C4,4.3 5.1,5.6 5.1,7.6 C5.1,9.7 3.9,11 2.4,11 C1.3,11 0.4,10.5 0,9.8" vector-effect="non-scaling-stroke"/><path transform="translate(9.20,0)" d="M0,4.2 L4.8,9.3 M4.8,4.2 L0,9.3" vector-effect="non-scaling-stroke"/><path transform="translate(18.10,0)" d="M0,11 L0,0 L4,7.2 L8,0 L8,11" vector-effect="non-scaling-stroke"/><path transform="translate(30.20,0)" d="M2.9,0 L0,8.2 L5.4,8.2 M3.9,5.9 L3.9,11" vector-effect="non-scaling-stroke"/></g>
<line x1="514.10" y1="244.10" x2="544.00" y2="359.90" stroke-width="1.3" stroke-linecap="butt"/>
<line x1="544.00" y1="359.90" x2="574.30" y2="359.90" stroke-width="1.3" stroke-linecap="butt"/>
<g transform="translate(549.02,346.32) scale(0.9724,0.9318)" stroke-width="1.25" stroke-linecap="round" stroke-linejoin="round" fill="none"><path transform="translate(0.00,0)" d="M0.1,2.5 C0.4,0.9 1.4,0 2.6,0 C4.1,0 5.1,1.1 5.1,2.7 C5.1,3.9 4.6,4.8 3.8,5.8 L0,11 L5.2,11" vector-effect="non-scaling-stroke"/><path transform="translate(9.30,0)" d="M0,6.4 L4.4,6.4" vector-effect="non-scaling-stroke"/><path transform="translate(17.80,0)" d="M0,11 L0,0 L4,7.2 L8,0 L8,11" vector-effect="non-scaling-stroke"/><path transform="translate(29.90,0)" d="M0,2.9 L2.5,0 L2.5,11" vector-effect="non-scaling-stroke"/><path transform="translate(36.50,0)" d="M2.6,0 C4.3,0 5.2,1.6 5.2,3.4 L5.2,7.6 C5.2,9.4 4.3,11 2.6,11 C0.9,11 0,9.4 0,7.6 L0,3.4 C0,1.6 0.9,0 2.6,0 Z" vector-effect="non-scaling-stroke"/></g>
<rect x="598.4" y="100.2" width="3.2" height="177.6" fill="#777" stroke-width="1"/>
<rect x="663.7" y="100.2" width="3.2" height="177.6" fill="#777" stroke-width="1"/>
<path d="M601.60,93.90 L663.70,93.90 L663.70,397.00 L601.60,397.00 Z" stroke-width="2.0" fill="none"/>
<line x1="632.40" y1="80.40" x2="632.40" y2="106.80" stroke-width="1.3" stroke-linecap="butt"/>
<line x1="632.40" y1="109.70" x2="632.40" y2="114.50" stroke-width="1.3" stroke-linecap="butt"/>
<line x1="632.40" y1="118.40" x2="632.40" y2="143.50" stroke-width="1.3" stroke-linecap="butt"/>
<line x1="632.40" y1="147.50" x2="632.40" y2="152.30" stroke-width="1.3" stroke-linecap="butt"/>
<line x1="632.40" y1="155.60" x2="632.40" y2="178.00" stroke-width="1.3" stroke-linecap="butt"/>
<line x1="632.40" y1="184.00" x2="632.40" y2="188.70" stroke-width="1.3" stroke-linecap="butt"/>
<line x1="632.40" y1="192.70" x2="632.40" y2="225.90" stroke-width="1.3" stroke-linecap="butt"/>
<line x1="632.40" y1="229.70" x2="632.40" y2="254.80" stroke-width="1.3" stroke-linecap="butt"/>
<line x1="632.40" y1="257.30" x2="632.40" y2="261.20" stroke-width="1.3" stroke-linecap="butt"/>
<line x1="632.40" y1="265.00" x2="632.40" y2="292.00" stroke-width="1.3" stroke-linecap="butt"/>
<line x1="632.40" y1="295.00" x2="632.40" y2="299.70" stroke-width="1.3" stroke-linecap="butt"/>
<line x1="632.40" y1="303.60" x2="632.40" y2="327.70" stroke-width="1.3" stroke-linecap="butt"/>
<line x1="632.40" y1="332.10" x2="632.40" y2="337.40" stroke-width="1.3" stroke-linecap="butt"/>
<line x1="632.40" y1="341.00" x2="632.40" y2="365.90" stroke-width="1.3" stroke-linecap="butt"/>
<line x1="632.40" y1="369.40" x2="632.40" y2="372.80" stroke-width="1.3" stroke-linecap="butt"/>
<line x1="632.40" y1="376.30" x2="632.40" y2="404.00" stroke-width="1.3" stroke-linecap="butt"/>
<path d="M619.36,156.24 A13.2,13.2 0 0 1 621.21,151.31 M625.02,147.36 A13.2,13.2 0 0 1 629.88,145.34 M633.55,145.15 A13.2,13.2 0 0 1 639.97,147.49 M642.80,150.17 A13.2,13.2 0 0 1 645.44,156.24 M645.31,161.04 A13.2,13.2 0 0 1 643.47,165.49 M639.39,169.49 A13.2,13.2 0 0 1 632.86,171.49" stroke-width="1.35" fill="none"/>
<path d="M622.96,163.75 A10.9,10.9 0 0 1 621.53,159.06 M632.40,169.20 A10.9,10.9 0 0 1 627.12,167.83 M642.28,162.91 A10.9,10.9 0 0 1 637.85,167.74 M641.64,152.52 A10.9,10.9 0 0 1 642.98,155.66 M633.54,147.46 A10.9,10.9 0 0 1 637.85,148.86 M622.44,153.87 A10.9,10.9 0 0 1 626.62,149.06" stroke-width="1.35" fill="none"/>
<line x1="613.50" y1="158.30" x2="626.70" y2="158.30" stroke-width="1.3" stroke-linecap="butt"/>
<line x1="630.30" y1="158.30" x2="634.30" y2="158.30" stroke-width="1.3" stroke-linecap="butt"/>
<line x1="638.20" y1="158.30" x2="652.30" y2="158.30" stroke-width="1.3" stroke-linecap="butt"/>
<path d="M619.36,241.44 A13.2,13.2 0 0 1 621.21,236.51 M625.02,232.56 A13.2,13.2 0 0 1 629.88,230.54 M633.55,230.35 A13.2,13.2 0 0 1 639.97,232.69 M642.80,235.37 A13.2,13.2 0 0 1 645.44,241.44 M645.31,246.24 A13.2,13.2 0 0 1 643.47,250.69 M639.39,254.69 A13.2,13.2 0 0 1 632.86,256.69" stroke-width="1.35" fill="none"/>
<path d="M622.96,248.95 A10.9,10.9 0 0 1 621.53,244.26 M632.40,254.40 A10.9,10.9 0 0 1 627.12,253.03 M642.28,248.11 A10.9,10.9 0 0 1 637.85,252.94 M641.64,237.72 A10.9,10.9 0 0 1 642.98,240.86 M633.54,232.66 A10.9,10.9 0 0 1 637.85,234.06 M622.44,239.07 A10.9,10.9 0 0 1 626.62,234.26" stroke-width="1.35" fill="none"/>
<line x1="613.50" y1="243.50" x2="626.70" y2="243.50" stroke-width="1.3" stroke-linecap="butt"/>
<line x1="630.30" y1="243.50" x2="634.30" y2="243.50" stroke-width="1.3" stroke-linecap="butt"/>
<line x1="638.20" y1="243.50" x2="652.30" y2="243.50" stroke-width="1.3" stroke-linecap="butt"/>
<path d="M632.40,202.30 L641.49,207.55 L641.49,218.05 L632.40,223.30 L623.31,218.05 L623.31,207.55 Z" stroke-width="1.8" fill="none"/>
<circle cx="632.40" cy="212.80" r="5.00" stroke-width="1.7" fill="none"/>
<line x1="620.10" y1="212.80" x2="645.70" y2="212.80" stroke-width="1.3" stroke-linecap="butt"/>
<line x1="675.90" y1="122.70" x2="602.60" y2="181.80" stroke-width="1.3" stroke-linecap="butt"/>
<line x1="675.90" y1="122.70" x2="720.40" y2="122.70" stroke-width="1.3" stroke-linecap="butt"/>
<path d="M642.00,149.60 L650.35,140.04 L653.11,143.47 Z" fill="#000" stroke="none"/>
<path d="M622.40,166.30 L614.05,175.86 L611.29,172.43 Z" fill="#000" stroke="none"/>
<g transform="translate(678.42,108.12) scale(0.9988,1.0318)" stroke-width="1.25" stroke-linecap="round" stroke-linejoin="round" fill="none"><path transform="translate(0.00,0)" d="M0.1,2.5 C0.4,0.9 1.4,0 2.6,0 C4.1,0 5.1,1.1 5.1,2.7 C5.1,3.9 4.6,4.8 3.8,5.8 L0,11 L5.2,11" vector-effect="non-scaling-stroke"/><path transform="translate(9.30,0)" d="M0,4.2 L4.8,9.3 M4.8,4.2 L0,9.3" vector-effect="non-scaling-stroke"/><path transform="translate(18.20,0)" d="M0,11 L0,0 L4,7.2 L8,0 L8,11" vector-effect="non-scaling-stroke"/><path transform="translate(30.30,0)" d="M0,2.9 L2.5,0 L2.5,11" vector-effect="non-scaling-stroke"/><path transform="translate(36.90,0)" d="M2.6,0 C4.3,0 5.2,1.6 5.2,3.4 L5.2,7.6 C5.2,9.4 4.3,11 2.6,11 C0.9,11 0,9.4 0,7.6 L0,3.4 C0,1.6 0.9,0 2.6,0 Z" vector-effect="non-scaling-stroke"/></g>
<path d="M627.60,329.70 L632.40,326.50 L637.30,329.70" stroke-width="1.35" fill="none"/>
<path d="M623.50,332.40 L619.20,335.10 L619.20,340.40" stroke-width="1.35" fill="none"/>
<line x1="619.20" y1="345.10" x2="619.20" y2="355.60" stroke-width="1.35" stroke-linecap="butt"/>
<line x1="619.20" y1="359.80" x2="619.20" y2="366.20" stroke-width="1.35" stroke-linecap="butt"/>
<line x1="619.20" y1="370.20" x2="619.20" y2="376.00" stroke-width="1.35" stroke-linecap="butt"/>
<line x1="619.20" y1="380.70" x2="619.20" y2="386.40" stroke-width="1.35" stroke-linecap="butt"/>
<line x1="619.20" y1="391.00" x2="619.20" y2="396.50" stroke-width="1.35" stroke-linecap="butt"/>
<path d="M619.20,350.30 L616.80,350.30 L616.80,355.60" stroke-width="1.35" fill="none"/>
<line x1="616.80" y1="359.80" x2="616.80" y2="366.20" stroke-width="1.35" stroke-linecap="butt"/>
<line x1="616.80" y1="370.20" x2="616.80" y2="376.00" stroke-width="1.35" stroke-linecap="butt"/>
<line x1="616.80" y1="380.70" x2="616.80" y2="386.40" stroke-width="1.35" stroke-linecap="butt"/>
<line x1="616.80" y1="391.00" x2="616.80" y2="396.50" stroke-width="1.35" stroke-linecap="butt"/>
<path d="M641.30,332.40 L645.60,335.10 L645.60,340.40" stroke-width="1.35" fill="none"/>
<line x1="645.60" y1="345.10" x2="645.60" y2="355.60" stroke-width="1.35" stroke-linecap="butt"/>
<line x1="645.60" y1="359.80" x2="645.60" y2="366.20" stroke-width="1.35" stroke-linecap="butt"/>
<line x1="645.60" y1="370.20" x2="645.60" y2="376.00" stroke-width="1.35" stroke-linecap="butt"/>
<line x1="645.60" y1="380.70" x2="645.60" y2="386.40" stroke-width="1.35" stroke-linecap="butt"/>
<line x1="645.60" y1="391.00" x2="645.60" y2="396.50" stroke-width="1.35" stroke-linecap="butt"/>
<path d="M645.60,350.30 L648.00,350.30 L648.00,355.60" stroke-width="1.35" fill="none"/>
<line x1="648.00" y1="359.80" x2="648.00" y2="366.20" stroke-width="1.35" stroke-linecap="butt"/>
<line x1="648.00" y1="370.20" x2="648.00" y2="376.00" stroke-width="1.35" stroke-linecap="butt"/>
<line x1="648.00" y1="380.70" x2="648.00" y2="386.40" stroke-width="1.35" stroke-linecap="butt"/>
<line x1="648.00" y1="391.00" x2="648.00" y2="396.50" stroke-width="1.35" stroke-linecap="butt"/>
<line x1="624.40" y1="350.30" x2="629.60" y2="350.30" stroke-width="1.35" stroke-linecap="butt"/>
<line x1="634.90" y1="350.30" x2="640.10" y2="350.30" stroke-width="1.35" stroke-linecap="butt"/>
<line x1="629.70" y1="335.80" x2="635.20" y2="335.80" stroke-width="1.3" stroke-linecap="butt"/>
<line x1="647.70" y1="350.20" x2="697.70" y2="350.20" stroke-width="1.3" stroke-linecap="butt"/>
<line x1="663.70" y1="396.30" x2="697.70" y2="396.30" stroke-width="1.3" stroke-linecap="butt"/>
<line x1="692.20" y1="350.20" x2="692.20" y2="396.30" stroke-width="1.3" stroke-linecap="butt"/>
<path d="M692.20,350.20 L694.40,362.70 L690.00,362.70 Z" fill="#000" stroke="none"/>
<path d="M692.20,396.30 L690.00,383.80 L694.40,383.80 Z" fill="#000" stroke="none"/>
<g transform="translate(678.33,380.68) rotate(-90) scale(1.0379,1.0227)" stroke-width="1.25" stroke-linecap="round" stroke-linejoin="round" fill="none"><path transform="translate(0.00,0)" d="M0.1,2.5 C0.4,0.9 1.4,0 2.6,0 C4.1,0 5.1,1.1 5.1,2.7 C5.1,3.9 4.6,4.8 3.8,5.8 L0,11 L5.2,11" vector-effect="non-scaling-stroke"/><path transform="translate(9.30,0)" d="M0.1,2.5 C0.4,0.9 1.4,0 2.6,0 C4.1,0 5.1,1.1 5.1,2.7 C5.1,3.9 4.6,4.8 3.8,5.8 L0,11 L5.2,11" vector-effect="non-scaling-stroke"/></g>
<line x1="616.60" y1="396.00" x2="616.60" y2="436.20" stroke-width="1.3" stroke-linecap="butt"/>
<line x1="647.90" y1="396.00" x2="647.90" y2="436.20" stroke-width="1.3" stroke-linecap="butt"/>
<line x1="616.60" y1="431.40" x2="715.20" y2="431.40" stroke-width="1.3" stroke-linecap="butt"/>
<path d="M616.60,431.40 L629.10,429.20 L629.10,433.60 Z" fill="#000" stroke="none"/>
<path d="M647.90,431.40 L635.40,433.60 L635.40,429.20 Z" fill="#000" stroke="none"/>
<g transform="translate(669.52,417.02) scale(1.0107,1.0227)" stroke-width="1.25" stroke-linecap="round" stroke-linejoin="round" fill="none"><path transform="translate(0.00,0)" d="M0.1,2.5 C0.4,0.9 1.4,0 2.6,0 C4.1,0 5.1,1.1 5.1,2.7 C5.1,3.9 4.6,4.8 3.8,5.8 L0,11 L5.2,11" vector-effect="non-scaling-stroke"/><path transform="translate(9.30,0)" d="M0,4.2 L4.8,9.3 M4.8,4.2 L0,9.3" vector-effect="non-scaling-stroke"/><path transform="translate(18.20,0)" d="M0,11 L0,0 L4,7.2 L8,0 L8,11" vector-effect="non-scaling-stroke"/><path transform="translate(30.30,0)" d="M0,2.9 L2.5,0 L2.5,11" vector-effect="non-scaling-stroke"/><path transform="translate(36.90,0)" d="M0.1,2.5 C0.4,0.9 1.4,0 2.6,0 C4.1,0 5.1,1.1 5.1,2.7 C5.1,3.9 4.6,4.8 3.8,5.8 L0,11 L5.2,11" vector-effect="non-scaling-stroke"/></g>
<line x1="601.60" y1="396.00" x2="601.60" y2="458.40" stroke-width="1.3" stroke-linecap="butt"/>
<line x1="663.70" y1="396.00" x2="663.70" y2="458.40" stroke-width="1.3" stroke-linecap="butt"/>
<line x1="601.60" y1="453.20" x2="663.70" y2="453.20" stroke-width="1.3" stroke-linecap="butt"/>
<path d="M601.60,453.20 L614.10,451.00 L614.10,455.40 Z" fill="#000" stroke="none"/>
<path d="M663.70,453.20 L651.20,455.40 L651.20,451.00 Z" fill="#000" stroke="none"/>
<g transform="translate(624.42,438.73) scale(1.0578,0.9864)" stroke-width="1.25" stroke-linecap="round" stroke-linejoin="round" fill="none"><path transform="translate(0.00,0)" d="M0.1,2.5 C0.4,0.9 1.4,0 2.6,0 C4.1,0 5.1,1.1 5.1,2.7 C5.1,3.9 4.6,4.8 3.8,5.8 L0,11 L5.2,11" vector-effect="non-scaling-stroke"/><path transform="translate(9.30,0)" d="M2.9,0 L0,8.2 L5.4,8.2 M3.9,5.9 L3.9,11" vector-effect="non-scaling-stroke"/></g>
</g>
</svg>
</body></html>
